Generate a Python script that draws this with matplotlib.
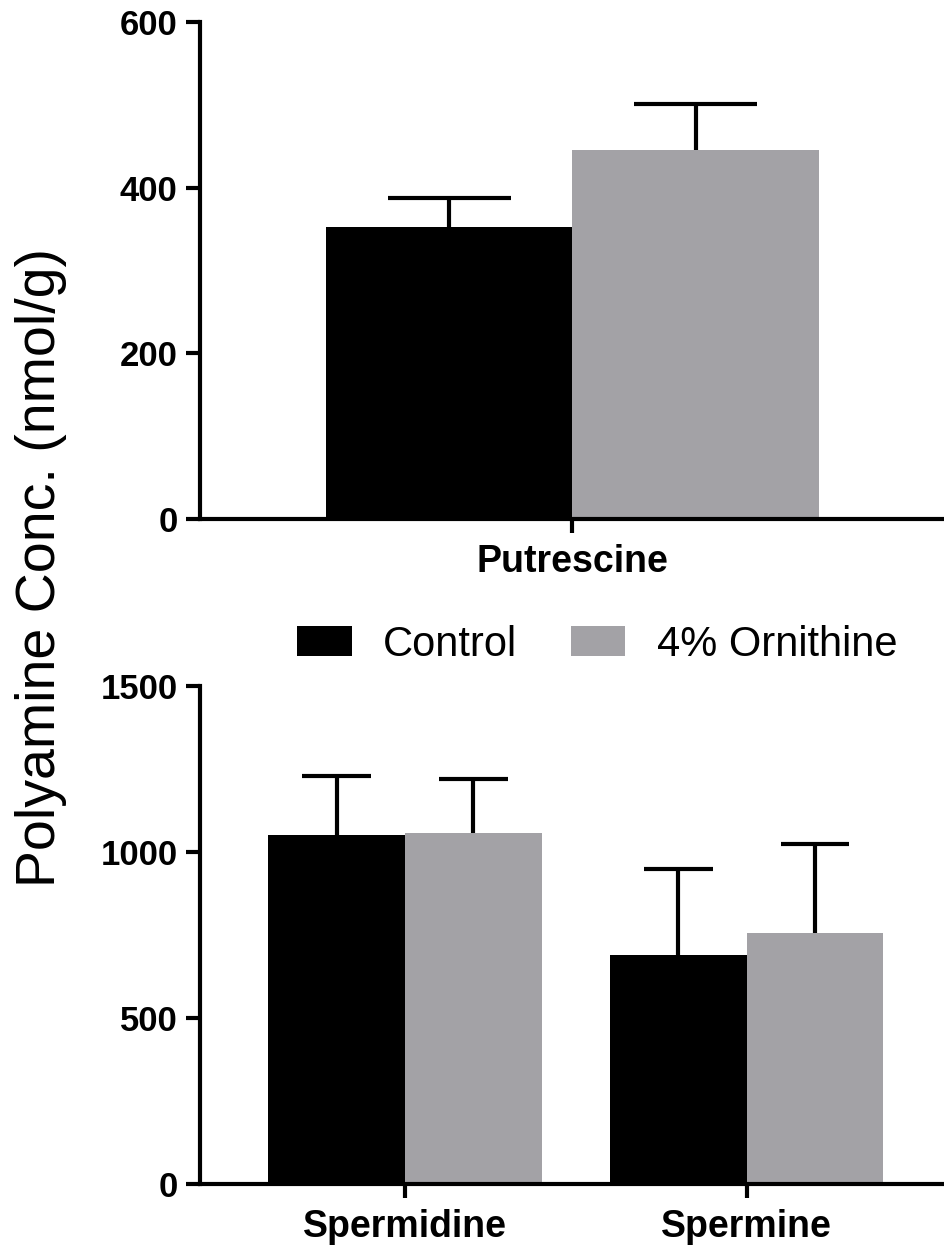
import numpy as np
import matplotlib.pyplot as plt
from matplotlib.patches import Patch

# data (nmol/g), mean and upper SD
top_cats = ['Putrescine']
top_control = [353]
top_control_err = [35]
top_orn = [446]
top_orn_err = [55]

bot_cats = ['Spermidine', 'Spermine']
bot_control = [1050, 690]
bot_control_err = [180, 260]
bot_orn = [1058, 757]
bot_orn_err = [162, 267]

series_labels = ['Control', '4% Ornithine']
colors = ['#000000', '#a3a2a6']

plt.rcParams['font.family'] = ['Liberation Sans', 'DejaVu Sans']

fig = plt.figure(figsize=(9.45, 12.47), dpi=100)
ax1 = fig.add_axes([0.2116, 0.5838, 0.7884, 0.3986])
ax2 = fig.add_axes([0.2116, 0.0505, 0.7884, 0.3994])

w = 0.4
cap = 0.1
lw = 3.0


def draw(ax, cats, c_vals, c_err, o_vals, o_err):
    x = np.arange(len(cats))
    for xs, vals, err, col in [(x - w / 2, c_vals, c_err, colors[0]),
                               (x + w / 2, o_vals, o_err, colors[1])]:
        vals = np.array(vals)
        tops = vals + np.array(err)
        ax.bar(xs, vals, w, color=col, zorder=2)
        # upper error bar only
        ax.vlines(xs, vals, tops, color='black', lw=lw, zorder=1)
        ax.hlines(tops, xs - cap, xs + cap, color='black', lw=lw, zorder=1)
    ax.set_xticks(x)
    ax.set_xticklabels(cats, fontsize=27, fontweight='bold')
    for s in ['top', 'right']:
        ax.spines[s].set_visible(False)
    for s in ['left', 'bottom']:
        ax.spines[s].set_linewidth(lw)
        ax.spines[s].set_zorder(3)
    ax.tick_params(axis='both', width=lw, length=10, pad=6)
    ax.tick_params(axis='x', pad=8)


draw(ax1, top_cats, top_control, top_control_err, top_orn, top_orn_err)
ax1.set_xlim(-0.605, 0.605)
ax1.set_ylim(0, 600)
ax1.set_yticks([0, 200, 400, 600])

draw(ax2, bot_cats, bot_control, bot_control_err, bot_orn, bot_orn_err)
ax2.set_xlim(-0.6, 1.58)
ax2.set_ylim(0, 1500)
ax2.set_yticks([0, 500, 1000, 1500])

for ax in (ax1, ax2):
    for t in ax.get_yticklabels():
        t.set_fontsize(25)
        t.set_fontweight('bold')

fig.text(0.043, 0.545, 'Polyamine Conc. (nmol/g)', rotation=90,
         fontsize=40, ha='center', va='center')

handles = [Patch(facecolor=colors[0]), Patch(facecolor=colors[1])]
fig.legend(handles, series_labels, loc='center', bbox_to_anchor=(0.632, 0.483),
           ncol=2, frameon=False, fontsize=30, handlelength=1.3, handleheight=0.75,
           handletextpad=0.75, columnspacing=1.3, borderpad=0)

fig.savefig('out.png', dpi=100)
